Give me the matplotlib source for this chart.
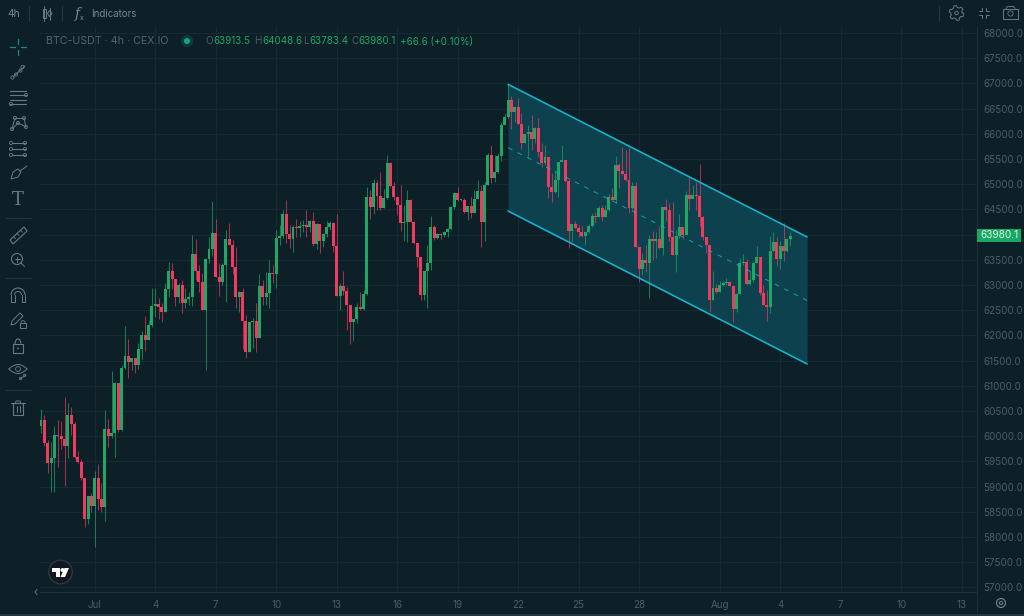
import numpy as np
import matplotlib
matplotlib.use('Agg')
import matplotlib.pyplot as plt
from matplotlib.patches import Circle, Polygon, Rectangle, Arc

plt.rcParams['font.family'] = ['Inter', 'DejaVu Sans']

# 4h candles, Jun 28 08:00 onwards
first_open = 60200
closes = [
    60320, 59870, 59475, 59570, 60025, 60000, 59950, 59810, 60420, 60240,
    59595, 59495, 59170, 58360, 58815, 58620, 59180, 58750, 58600, 60135,
    60010, 60060, 61050, 60120, 61350, 61590, 61480, 61550, 61410, 61730,
    62000, 61910, 62200, 62585, 62620, 62560, 62470, 62920, 63280, 63125,
    62755, 63000, 62635, 62720, 62760, 63625, 63275, 63065, 62505, 63515,
    63705, 64040, 63165, 63065, 63395, 63910, 63800, 63365, 62755, 62870,
    62290, 61680, 62270, 62280, 61955, 62985, 62770, 62850, 63230, 63225,
    63925, 63975, 64410, 64010, 63915, 64160, 64140, 64170, 64200, 64150,
    64270, 63815, 64210, 63865, 64005, 64160, 64225, 63775, 62780, 62980,
    62880, 62600, 62270, 62330, 62555, 62530, 62825, 64740, 64555, 65020,
    64770, 64535, 64720, 65415, 64965, 64740, 64590, 64225, 64245, 64685,
    64255, 63825, 63550, 62805, 63280, 63430, 64145, 63925, 64005, 63990,
    64060, 64110, 64540, 64830, 64685, 64695, 64450, 64570, 64435, 64705,
    64865, 64255, 64985, 65585, 65130, 65240, 65560, 66175, 66340, 66670,
    66425, 66540, 66190, 65825, 65995, 66030, 65905, 66110, 65645, 65425,
    65530, 64940, 64850, 65085, 65445, 65480, 65065, 64080, 64210, 64130,
    64060, 63975, 64050, 64170, 64370, 64355, 64530, 64355, 64485, 64750,
    64685, 65385, 65270, 65200, 65080, 64520, 64965, 63750, 63320, 63490,
    63445, 63910, 63880, 63910, 63730, 64540, 64490, 63945, 63590, 63975,
    64145, 63990, 64785, 64705, 64785, 64770, 64355, 63945, 63795, 62705,
    62950, 62870, 63000, 63035, 63050, 62990, 62520, 62815, 63430, 63465,
    63015, 63100, 63445, 63565, 62850, 62605, 62560, 63680, 63845, 63515,
    63780, 63675, 63905, 63980.1,
]
highs = [
    60530, 60420, 59925, 59890, 60200, 60320, 60300, 60770, 60650, 60570,
    60290, 59700, 59540, 59170, 58815, 58870, 59300, 59450, 59070, 60520,
    60335, 61290, 61085, 61060, 61410, 62190, 61920, 61550, 61550, 61840,
    62090, 62385, 62305, 62935, 62935, 62735, 62635, 63030, 63450, 63430,
    63125, 63030, 63100, 62935, 62865, 63985, 63905, 63395, 63230, 63530,
    63945, 64670, 64300, 63430, 63440, 64090, 64235, 63890, 63745, 62890,
    62935, 62400, 62270, 62340, 62635, 63220, 63100, 63265, 63500, 63400,
    64100, 64190, 64490, 64690, 64190, 64190, 64300, 64260, 64290, 64490,
    64290, 64440, 64225, 64210, 64025, 64260, 64260, 64250, 64410, 63035,
    63280, 62960, 62600, 62330, 62650, 62855, 62905, 64950, 64885, 65095,
    65085, 65250, 64900, 65580, 65450, 65050, 64755, 64985, 64590, 64885,
    64700, 64270, 63840, 63565, 63280, 63790, 64370, 64190, 64025, 64025,
    64080, 64140, 64570, 64850, 64950, 64700, 64720, 64570, 64740, 64885,
    65085, 64985, 65050, 65625, 65785, 65580, 65610, 66240, 66405, 66985,
    66750, 66550, 66720, 66405, 66005, 66175, 66370, 66130, 66305, 65810,
    65775, 65545, 65215, 65280, 65445, 65775, 65490, 65115, 64210, 64260,
    64190, 64180, 64050, 64210, 64435, 64455, 64565, 64585, 64585, 64805,
    64920, 65560, 65415, 65730, 65680, 65710, 65050, 65050, 63760, 63640,
    63795, 63990, 64080, 64060, 64170, 64555, 64700, 64635, 64655, 64090,
    64410, 64145, 64870, 65150, 64985, 65050, 65395, 64370, 63945, 63795,
    63285, 63035, 63085, 63085, 63135, 63080, 63000, 62835, 63545, 63615,
    63510, 63285, 63465, 63780, 63565, 63000, 62900, 63970, 64060, 63945,
    63880, 64225, 63925, 64048.6,
]
lows = [
    60060, 59800, 59265, 58900, 58900, 59380, 59740, 59010, 59575, 60020,
    59560, 59460, 59130, 58205, 58260, 58490, 57810, 58540, 58490, 58320,
    59780, 59960, 59580, 60090, 60100, 61330, 61150, 61310, 61250, 61330,
    61540, 61700, 61910, 62175, 62370, 62320, 62270, 62470, 62770, 62930,
    62585, 62640, 62450, 62535, 62600, 62585, 63100, 62870, 62505, 61315,
    63430, 63575, 63165, 62790, 63000, 62670, 63800, 63220, 62540, 62470,
    61730, 61545, 61680, 61745, 61680, 61955, 62600, 62600, 62540, 63035,
    62935, 63795, 63930, 63825, 63730, 63660, 63960, 63960, 64060, 63960,
    64060, 63775, 63710, 63640, 63760, 63960, 64090, 63660, 62780, 62505,
    62800, 62100, 61820, 61880, 62255, 62505, 62505, 62800, 64305, 64410,
    64490, 64490, 64535, 64700, 64950, 64690, 64390, 64080, 63875, 63860,
    64255, 63810, 63365, 62705, 62700, 62540, 63300, 63890, 63910, 63910,
    63950, 63960, 64090, 64510, 64670, 64670, 64435, 64290, 64325, 64420,
    64705, 63760, 63875, 64985, 65020, 65050, 65215, 65465, 66175, 66305,
    66095, 66240, 66190, 65690, 65810, 65545, 65680, 65810, 65545, 65335,
    65380, 64720, 64650, 64820, 64750, 65445, 65050, 63730, 63860, 64125,
    63960, 63960, 63795, 64025, 64155, 64235, 64340, 64275, 64340, 64475,
    64670, 64620, 64920, 65180, 65060, 64420, 64490, 63750, 63065, 63200,
    63265, 62735, 63495, 63540, 63715, 63595, 64275, 63880, 63590, 63265,
    63925, 63905, 63990, 64490, 64720, 64490, 64170, 63890, 63630, 62460,
    62695, 62835, 62870, 62990, 63000, 62980, 62275, 62470, 62815, 63395,
    63000, 63000, 63065, 63445, 62805, 62605, 62285, 62440, 63680, 63385,
    63310, 63480, 63660, 63783.4,
]

# descending channel drawn on the chart: candle index, upper and lower edge
channel_x = [139, 228]
channel_upper = [66982, 63953]
channel_lower = [64468, 61433]

date_ticks = [16, 34, 52, 70, 88, 106, 124, 142, 160, 178, 202, 220, 238, 256, 274]
date_labels = ['Jul', '4', '7', '10', '13', '16', '19', '22', '25', '28', 'Aug', '4', '7', '10', '13']
price_ticks = list(range(57000, 68001, 500))

BG = '#0d1f27'
GRID = '#142c36'
UP = '#1ea765'
DOWN = '#f2395f'
CYAN = '#17b4cf'
MUTED = '#4f5e66'
ICON = '#6c7b82'

W, H = 1024, 616
fig = plt.figure(figsize=(W / 100, H / 100), dpi=100, facecolor=BG)

# price pane, 40..977 px wide and 27..592 px high
ax = fig.add_axes([40 / W, 1 - 592 / H, 937 / W, 565 / H], facecolor=BG)
ax.set_xlim(-0.3, 278.57)
ax.set_ylim(56909, 68119)

opens = np.array([first_open] + closes[:-1], dtype=float)
closes = np.array(closes, dtype=float)
highs = np.array(highs, dtype=float)
lows = np.array(lows, dtype=float)
idx = np.arange(len(closes))
colors = [UP if c >= o else DOWN for o, c in zip(opens, closes)]

ax.fill_between(channel_x, channel_lower, channel_upper, color='#0d4854', alpha=0.85, lw=0, zorder=1)
ax.vlines(idx, lows, highs, colors=colors, lw=0.7, alpha=0.7, zorder=2)
ax.bar(idx, np.maximum(np.abs(closes - opens), 12), bottom=np.minimum(opens, closes),
       width=0.88, color=colors, lw=0, zorder=3)

ax.plot(channel_x, channel_upper, color=CYAN, lw=1.15, zorder=4, solid_capstyle='round')
ax.plot(channel_x, channel_lower, color=CYAN, lw=1.15, zorder=4, solid_capstyle='round')
channel_mid = np.mean([channel_upper, channel_lower], axis=0)
ax.plot(channel_x, channel_mid, color=CYAN, lw=0.7, ls=(0, (5, 6)), alpha=0.8, zorder=4)

ax.set_xticks(date_ticks)
ax.set_xticklabels(date_labels)
ax.set_yticks(price_ticks)
# the 64000 label sits under the last price tag
ax.set_yticklabels(['' if p == 64000 else '%.1f' % p for p in price_ticks])
ax.yaxis.tick_right()
ax.tick_params(axis='both', length=0, labelsize=7, labelcolor=MUTED)
ax.tick_params(axis='y', pad=4.5)
ax.tick_params(axis='x', pad=6)
ax.grid(True, color=GRID, lw=0.7)
ax.set_axisbelow(True)
for side in ['top', 'left']:
    ax.spines[side].set_visible(False)
for side in ['right', 'bottom']:
    ax.spines[side].set_color('#1b3039')
    ax.spines[side].set_linewidth(0.8)

# everything around the pane is placed in pixel coordinates
ui = fig.add_axes([0, 0, 1, 1], facecolor='none')
ui.set_xlim(0, W)
ui.set_ylim(H, 0)
ui.axis('off')


def seg(points, color=ICON, lw=0.7):
    xs, ys = zip(*points)
    ui.plot(xs, ys, color=color, lw=lw, solid_capstyle='round')


def ring(x, y, r=1.6, color=ICON, lw=0.6):
    ui.add_patch(Circle((x, y), r, fc='none', ec=color, lw=lw))


def box(x, y, w, h, color=ICON, lw=0.7):
    ui.add_patch(Rectangle((x, y), w, h, fc='none', ec=color, lw=lw))


# top bar
ui.text(7, 14, '4h', color='#7b888e', fontsize=7.4, va='center')
seg([(29, 6), (29, 21)], '#243841', 0.8)
seg([(62, 6), (62, 21)], '#243841', 0.8)
seg([(939, 6), (939, 21)], '#243841', 0.8)
box(42.5, 9, 3.5, 9)
seg([(44.2, 6), (44.2, 20.5)])
ui.add_patch(Polygon([(49.5, 10.5), (52, 13.5), (49.5, 16.5), (47.5, 13.5)], fc='none', ec=ICON, lw=0.7))
seg([(49.5, 7.5), (49.5, 19.5)])
ui.text(75, 14, 'f', color='#7b888e', fontsize=10, style='italic', family='DejaVu Serif', va='center')
ui.text(80, 17.5, 'x', color='#7b888e', fontsize=5, va='center')
ui.text(91, 14, 'Indicators', color='#7b888e', fontsize=7, va='center')

# settings, fullscreen, camera
ang = np.linspace(0, 2 * np.pi, 49)
rad = 6.5 + 0.9 * np.sign(np.sin(6 * ang))
ui.plot(956.5 + rad * np.cos(ang), 13 + rad * np.sin(ang), color=ICON, lw=0.7)
ring(956.5, 13, 1.8)
for sx, sy in [(-1, -1), (1, -1), (-1, 1), (1, 1)]:
    cx, cy = 984 + 2 * sx, 13 + 2 * sy
    seg([(cx + 3 * sx, cy), (cx, cy), (cx, cy + 3 * sy)])
ui.add_patch(Rectangle((1003, 8.5), 15, 10, fc='none', ec=ICON, lw=0.7))
seg([(1006, 8.5), (1007.5, 6.5), (1013.5, 6.5), (1015, 8.5)])
ring(1010.5, 13.5, 2.6)

# legend line
ui.text(46, 41.5, 'BTC-USDT · 4h · CEX.IO', color='#55646c', fontsize=7.7, va='center')
ui.add_patch(Circle((187, 41), 6.2, fc='#0f3838', ec='none'))
ui.add_patch(Circle((187, 41), 3, fc='#12a585', ec='none'))
legend_items = [(205, 'O', MUTED), (213, '63913.5', UP), (254, 'H', MUTED), (262, '64048.6', UP),
                (303, 'L', MUTED), (309.5, '63783.4', UP), (351, 'C', MUTED), (358.5, '63980.1', UP),
                (400, '+66.6 (+0.10%)', UP)]
for x, label, col in legend_items:
    ui.text(x, 41.5, label, color=col, fontsize=7.1, va='center')

# last price tag
ui.add_patch(Rectangle((977, 229), 44, 13, fc='#17a964', ec='none'))
ui.text(999, 235.5, '63980.1', color='#dff5ea', fontsize=7.2, ha='center', va='center')

# left tool column
for y in [218, 278, 390]:
    seg([(6, y), (31, y)], '#24363f', 0.9)
TEAL = '#118f99'
seg([(18, 39), (18, 44)], TEAL, 0.9)
seg([(18, 50), (18, 55)], TEAL, 0.9)
seg([(10, 47), (15, 47)], TEAL, 0.9)
seg([(21, 47), (26, 47)], TEAL, 0.9)
# trend line
seg([(13, 77), (25, 66)])
for x, y in [(12.5, 77.5), (20.5, 70.5), (16, 74.5), (22.5, 67)]:
    ring(x, y)
# fib lines
for y in [91, 95, 100, 104]:
    seg([(10, y), (26, y)], lw=0.8)
ring(26, 95)
ring(11, 104)
# pattern
pts = [(12, 129), (15, 118), (24, 118), (26, 127), (18, 123)]
for a, b in zip(pts, pts[1:]):
    seg([a, b])
seg([pts[0], pts[4]])
for x, y in pts:
    ring(x, y)
# forecast
for y in [143, 149, 155]:
    seg([(12, y), (25, y)], lw=0.8)
    ring(11, y)
    ring(25, y)
# brush
ui.add_patch(Polygon([(11, 179), (13, 172), (18, 169), (21, 172), (18, 177)], fc='none', ec=ICON, lw=0.7))
seg([(20, 171), (27, 166)])
# text tool
ui.text(18, 200, 'T', color=ICON, fontsize=13, family='DejaVu Serif', ha='center', va='center')
# ruler
ui.add_patch(Polygon([(10, 240), (24, 227), (27, 231), (13, 244)], fc='none', ec=ICON, lw=0.8))
for t in [0.25, 0.5, 0.75]:
    xa, ya = 10 + 14 * t, 240 - 13 * t
    seg([(xa, ya), (xa + 2, ya + 2)], lw=0.6)
# zoom
ring(17, 259, 5.5, lw=0.8)
seg([(17, 256.5), (17, 261.5)])
seg([(14.5, 259), (19.5, 259)])
seg([(21, 263), (24.5, 266.5)])
# magnet
ui.add_patch(Arc((18, 295), 14, 14, theta1=180, theta2=360, ec=ICON, lw=0.8))
ui.add_patch(Arc((18, 295), 7, 7, theta1=180, theta2=360, ec=ICON, lw=0.7))
seg([(11, 295), (11, 302), (14.5, 302), (14.5, 295)])
seg([(25, 295), (25, 302), (21.5, 302), (21.5, 295)])
# draw lock
ui.add_patch(Polygon([(11, 325), (12, 321), (20, 313), (23, 316), (15, 324)], fc='none', ec=ICON, lw=0.7))
box(20, 323, 6, 5)
ui.add_patch(Arc((23, 323), 4, 5, theta1=180, theta2=360, ec=ICON, lw=0.6))
# lock
box(13, 344, 10, 9, lw=0.8)
ui.add_patch(Arc((18, 344), 6, 10, theta1=180, theta2=350, ec=ICON, lw=0.8))
ui.add_patch(Circle((18, 348.5), 0.9, fc=ICON, ec='none'))
# eye
ts = np.linspace(-1, 1, 30)
ui.plot(18 + 9 * ts, 369 - 4.5 * (1 - ts ** 2), color=ICON, lw=0.7)
ui.plot(18 + 9 * ts, 369 + 4.5 * (1 - ts ** 2), color=ICON, lw=0.7)
ring(18, 369, 2.4)
seg([(20, 379), (26, 375)])
ring(20.5, 378.5, 1.2)
ring(24.5, 375.5, 1.2)
# bin
box(13, 403, 10, 12, lw=0.8)
seg([(11, 403), (25, 403)], lw=0.8)
seg([(15.5, 403), (16, 401), (20, 401), (20.5, 403)])
seg([(16.5, 406), (16.5, 412)])
seg([(19.5, 406), (19.5, 412)])

# logo badge and pane controls
ui.add_patch(Circle((60.5, 572), 11.8, fc='#131722', ec='#2f3a44', lw=0.9))
ui.add_patch(Polygon([(52, 568), (60, 568), (60, 577), (56, 577), (56, 572), (52, 572)], fc='white', ec='none'))
ui.add_patch(Circle((62.5, 570), 2, fc='white', ec='none'))
ui.add_patch(Polygon([(64.5, 568), (69, 568), (65, 577), (60.5, 577)], fc='white', ec='none'))
seg([(37, 589.5), (35, 592), (37, 594.5)], '#5c6b72', 0.8)
seg([(977, 592), (977, 612)], '#1b3039', 0.8)
ring(1001, 603, 4.5, color='#7b888e', lw=0.8)
ring(1001, 603, 1.6, color='#7b888e', lw=0.7)
seg([(0, 615), (1024, 615)], '#2a3c44', 1.2)

fig.savefig('out.png', dpi=100, facecolor=BG)
